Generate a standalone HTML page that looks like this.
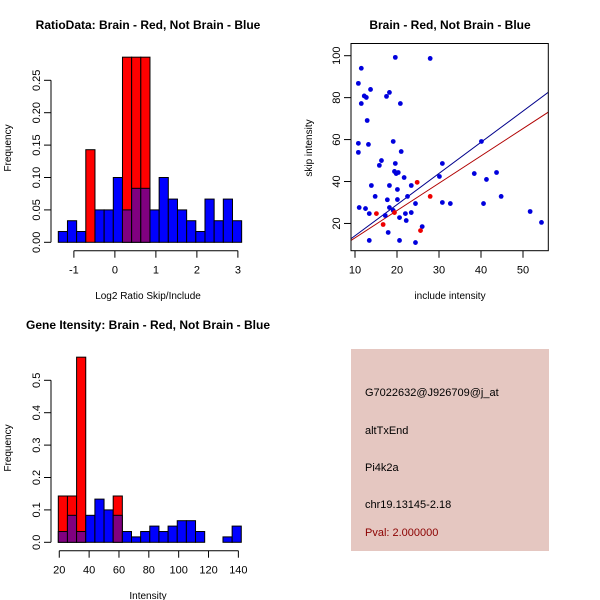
<!DOCTYPE html>
<html><head><meta charset="utf-8"><style>
body{margin:0;background:#fff}
svg{display:block;font-family:"Liberation Sans",sans-serif}
</style></head><body>
<svg id="s" width="600" height="600" xmlns="http://www.w3.org/2000/svg">
<rect width="600" height="600" fill="#fff"/>
<text x="148" y="29" font-size="12" font-weight="bold" text-anchor="middle">RatioData: Brain - Red, Not Brain - Blue</text>
<text x="450" y="29" font-size="12" font-weight="bold" text-anchor="middle">Brain - Red, Not Brain - Blue</text>
<text x="148" y="329" font-size="12" font-weight="bold" text-anchor="middle">Gene Itensity: Brain - Red, Not Brain - Blue</text>
<text x="148" y="299" font-size="10" text-anchor="middle">Log2 Ratio Skip/Include</text>
<text x="148" y="599" font-size="10" text-anchor="middle">Intensity</text>
<text x="450" y="299" font-size="10" text-anchor="middle">include intensity</text>
<text transform="translate(11,148) rotate(-90)" font-size="10" text-anchor="middle">Frequency</text>
<text transform="translate(11,448) rotate(-90)" font-size="10" text-anchor="middle">Frequency</text>
<text transform="translate(312,148) rotate(-90)" font-size="10" text-anchor="middle">skip intensity</text>
<rect x="351" y="349" width="198" height="202" fill="#e5c7c1"/>
<g font-size="11">
<text x="365" y="396">G7022632@J926709@j_at</text>
<text x="365" y="434">altTxEnd</text>
<text x="365" y="471">Pi4k2a</text>
<text x="365" y="508">chr19.13145-2.18</text>
<text x="365" y="536" fill="#8b0000">Pval: 2.000000</text>
</g>
</svg>
<script>
// Ratio histogram data
const ratioBinStart = -1.38;
const ratioBinWidth = 0.2236;
const ratioBlue = [0.0167,0.0333,0.0167,0,0.05,0.05,0.1,0.05,0.0833,0.0833,0.05,0.1,0.0667,0.05,0.0333,0.0167,0.0667,0.0333,0.0667,0.0333];
const ratioRed = [0,0,0,0.1429,0,0,0,0.2857,0.2857,0.2857,0,0,0,0,0,0,0,0,0,0];
const ratioXTicks = [-1,0,1,2,3];
const ratioYTicks = ["0.00","0.05","0.10","0.15","0.20","0.25"];
// Gene histogram data
const geneBinStart = 19.35;
const geneBinWidth = 6.13;
const geneBlue = [0.0333,0.0833,0.0333,0.0833,0.1333,0.1,0.0833,0.0333,0.0167,0.0333,0.05,0.0333,0.05,0.0667,0.0667,0.0333,0,0,0.0167,0.05];
const geneRed = [0.1429,0.1429,0.5714,0,0,0,0.1429,0,0,0,0,0,0,0,0,0,0,0,0,0];
const geneXTicks = [20,40,60,80,100,120,140];
const geneYTicks = ["0.0","0.1","0.2","0.3","0.4","0.5"];
// Scatter data
const blueX = [10.8,11.5,11.5,12.2,12.7,13.7,12.9,13.2,10.8,10.8,11.0,12.5,13.4,13.4,13.9,14.8,15.8,16.3,17.5,18.2,17.7,18.2,18.2,17.2,17.9,19.1,19.6,19.4,19.8,20.3,20.1,20.1,19.1,20.8,21.0,20.6,20.6,21.7,22.0,22.5,22.2,23.4,23.4,24.4,24.4,26.0,27.9,30.8,30.1,30.8,32.7,38.4,40.1,40.6,41.3,43.7,44.8,51.7,54.4,19.6];
const blueY = [86.8,94.0,77.2,80.8,80.1,83.9,69.1,57.7,58.2,53.9,27.6,27.1,24.7,11.9,38.1,32.9,47.7,50.0,80.6,82.5,31.3,38.1,27.6,23.8,15.7,59.1,48.6,44.8,43.8,44.3,36.2,31.4,26.2,77.2,54.3,22.8,11.9,41.9,24.7,32.9,21.4,38.1,25.2,29.5,10.9,18.5,98.7,48.6,42.4,30.0,29.5,43.8,59.1,29.5,41.0,44.3,32.9,25.7,20.5,99.2];
const redX = [15.1,16.7,19.4,24.8,25.6,27.9];
const redY = [24.7,19.5,25.2,39.6,16.6,32.9];
const fitIntercept = [-0.75, 0.1];
const fitSlope = [1.487, 1.303];
const scatterXTicks = [10,20,30,40,50];
const scatterYTicks = [20,40,60,80,100];

const S = document.getElementById('s');
const NS = 'http://www.w3.org/2000/svg';
function mk(tag, attrs, parent){const e=document.createElementNS(NS,tag);for(const k in attrs)e.setAttribute(k,attrs[k]);(parent||S).appendChild(e);return e;}

function hist(name, x0, px, y0, py, binStart, binW, blue, red, xTicks, yTicks, yStep, axisY, yAxisX){
  const X = v => x0 + (v - binStart) * px;
  const Y = v => y0 - v * py;
  const g = mk('g', {});
  
  
  for (let i=0;i<blue.length;i++){
    const xa = X(binStart + i*binW), xb = X(binStart + (i+1)*binW);
    const b = blue[i], r = red[i];
    const draw = (v, col, nm) => { if (v<=0) return; const e = mk('rect',{x:xa,y:Y(v),width:xb-xa,height:Y(0)-Y(v),fill:col,stroke:'#000','stroke-width':1},g);
      
       };
    if (r >= b){ draw(r,'#ff0000',name+'-red-bar-'+i); if (b>0) draw(b,'#800080',name+'-overlap-bar-'+i); }
    else { draw(b,'#0000ff',name+'-blue-bar-'+i); if (r>0) draw(r,'#800080',name+'-overlap-bar-'+i); }
  }
  const ax = mk('g',{stroke:'#000','stroke-width':1,fill:'none'});
  
  
  mk('line',{x1:X(xTicks[0]),x2:X(xTicks[xTicks.length-1]),y1:axisY,y2:axisY},ax);
  xTicks.forEach(t=>{ mk('line',{x1:X(t),x2:X(t),y1:axisY,y2:axisY+7},ax);
    const tx = mk('text',{x:X(t),y:axisY+23,'font-size':11,'text-anchor':'middle',fill:'#000',stroke:'none'});
    tx.textContent = t;
    
     });
  const yTop = Y((yTicks.length-1)*yStep);
  mk('line',{x1:yAxisX,x2:yAxisX,y1:Y(0),y2:yTop},ax);
  yTicks.forEach((t,i)=>{ const yy=Y(i*yStep); mk('line',{x1:yAxisX-7,x2:yAxisX,y1:yy,y2:yy},ax);
    const tx = mk('text',{transform:`translate(${yAxisX-11},${yy}) rotate(-90)`,'font-size':11,'text-anchor':'middle',fill:'#000',stroke:'none'});
    tx.textContent = t;
    
     });
}
hist('ratio', 58.3, 41, 242.3, 648, ratioBinStart, ratioBinWidth, ratioBlue, ratioRed, ratioXTicks, ratioYTicks, 0.05, 250.7, 51);
hist('gene', 58.3, 1.4925, 542.3, 324, geneBinStart, geneBinWidth, geneBlue, geneRed, geneXTicks, geneYTicks, 0.1, 550.7, 51);

// Scatter
const sx0=351, sx1=548.3, sy0=43.5, sy1=250.7;
const SX = v => 355 + (v-10) * 4.2;
const SY = v => 55.7 + (100 - v) * 2.097;
const sg = mk('g',{});


const clip = mk('clipPath',{id:'sc'}); mk('rect',{x:sx0,y:sy0,width:sx1-sx0,height:sy1-sy0},clip);
const lineCols = ['#00008b','#b00000'];
const lineNames = ['blue-fit-line','red-fit-line'];
fitIntercept.forEach((b,i)=>{ const xa=9, xb=57;
  const l = mk('line',{x1:SX(xa),y1:SY(b+fitSlope[i]*xa),x2:SX(xb),y2:SY(b+fitSlope[i]*xb),stroke:lineCols[i],'stroke-width':1,'clip-path':'url(#sc)'},sg);
  
   });
blueX.forEach((x,i)=>{ const c = mk('circle',{cx:SX(x),cy:SY(blueY[i]),r:2.4,fill:'#0000dd'},sg);
  
   });
redX.forEach((x,i)=>{ const c = mk('circle',{cx:SX(x),cy:SY(redY[i]),r:2.4,fill:'#ee0000'},sg);
  
   });
const box = mk('rect',{x:sx0,y:sy0,width:sx1-sx0,height:sy1-sy0,fill:'none',stroke:'#000','stroke-width':1},sg);


scatterXTicks.forEach(t=>{ mk('line',{x1:SX(t),x2:SX(t),y1:sy1,y2:sy1+7,stroke:'#000'},sg);
  const tx = mk('text',{x:SX(t),y:sy1+23,'font-size':11,'text-anchor':'middle'},sg);
  tx.textContent=t;
  
   });
scatterYTicks.forEach(t=>{ mk('line',{x1:sx0-7,x2:sx0,y1:SY(t),y2:SY(t),stroke:'#000'},sg);
  const tx = mk('text',{transform:`translate(${sx0-11},${SY(t)}) rotate(-90)`,'font-size':11,'text-anchor':'middle'},sg);
  tx.textContent=t;
  
   });
</script>
</body></html>
